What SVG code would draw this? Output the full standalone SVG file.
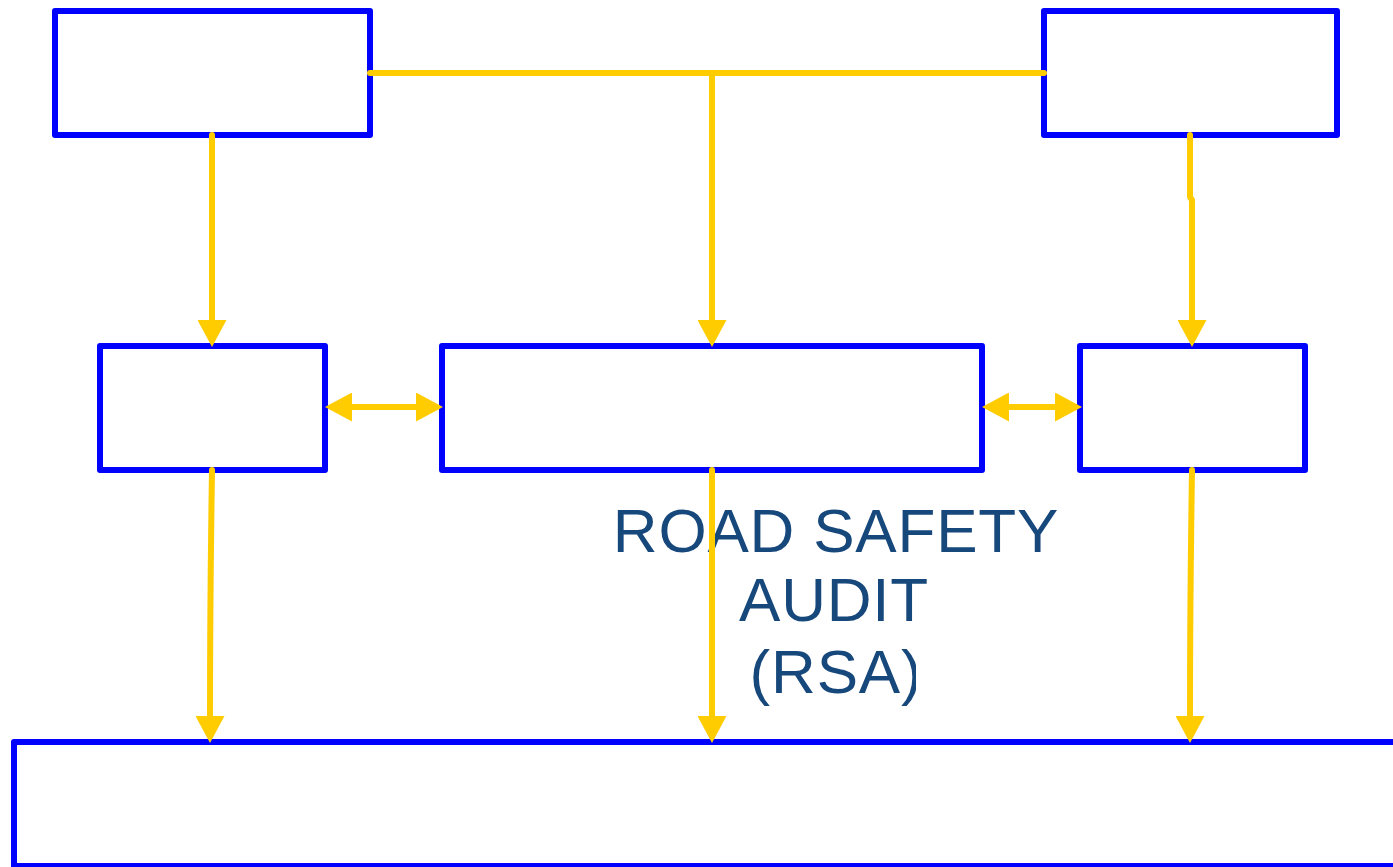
<svg xmlns="http://www.w3.org/2000/svg" width="1393" height="867" viewBox="0 0 1393 867">
<style>
.box{fill:#fff;stroke:#0000FF;stroke-width:6;stroke-linejoin:round}
.con{fill:none;stroke:#FFCC00;stroke-width:6;stroke-linecap:round;stroke-linejoin:round}
.lbl{font-family:"Liberation Sans",Arial,sans-serif;font-size:62px;letter-spacing:0.8px;fill:#17487C;text-anchor:middle}
</style>
<defs>
<marker id="ah" markerUnits="userSpaceOnUse" viewBox="0 0 27 29" refX="0" refY="14.5" markerWidth="27" markerHeight="29" orient="auto-start-reverse">
<path d="M0,0 L27,14.5 L0,29 z" fill="#FFCC00"/>
</marker>
<clipPath id="tc"><rect x="0" y="0" width="916" height="867"/></clipPath>
</defs>
<g id="node-top-left"><rect class="box" x="55" y="11" width="315" height="124"/></g>
<g id="node-top-right"><rect class="box" x="1044" y="11" width="293" height="124"/></g>
<g id="node-mid-left"><rect class="box" x="100" y="346" width="225" height="124"/></g>
<g id="node-mid-center"><rect class="box" x="442" y="346" width="540" height="124"/></g>
<g id="node-mid-right"><rect class="box" x="1080" y="346" width="225" height="124"/></g>
<g id="node-bottom"><rect class="box" x="14" y="742" width="1400" height="124"/></g>
<g id="label">
<text class="lbl" x="836" y="552">ROAD SAFETY</text>
<text class="lbl" x="834" y="621">AUDIT</text>
<text class="lbl" x="836" y="693" clip-path="url(#tc)">(RSA)</text>
</g>
<g id="connectors">
<path class="con" d="M370,73 L1044,73"/>
<path class="con" d="M712,73 L712,320" marker-end="url(#ah)"/>
<path class="con" d="M212,135 L212,320" marker-end="url(#ah)"/>
<path class="con" d="M1190,135 L1190,197 L1192,200 L1192,320" marker-end="url(#ah)"/>
<path class="con" d="M352,407 L416,407" marker-start="url(#ah)" marker-end="url(#ah)"/>
<path class="con" d="M1009,407 L1055,407" marker-start="url(#ah)" marker-end="url(#ah)"/>
<path class="con" d="M212,470 Q210,600 210,716" marker-end="url(#ah)"/>
<path class="con" d="M712,470 L712,716" marker-end="url(#ah)"/>
<path class="con" d="M1192,470 Q1190,600 1190,716" marker-end="url(#ah)"/>
</g>
</svg>
